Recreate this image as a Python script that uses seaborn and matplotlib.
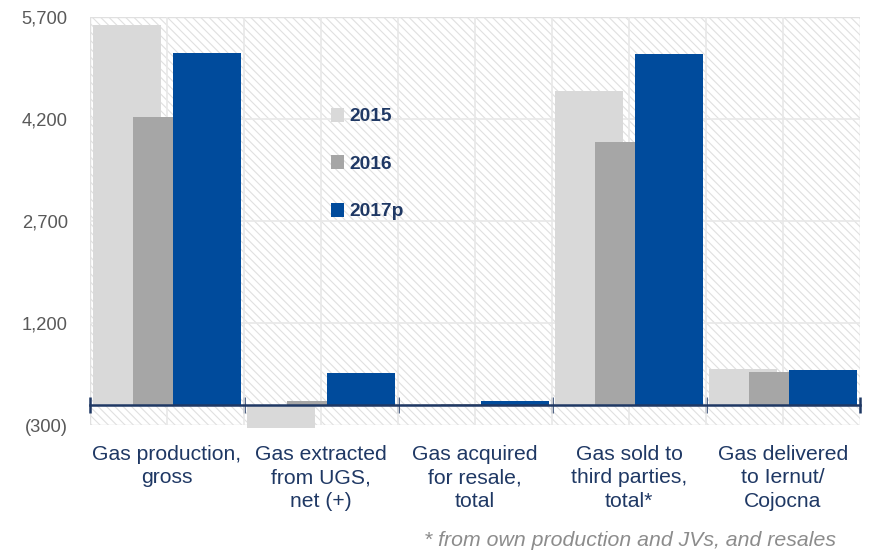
import pandas as pd
import matplotlib
matplotlib.use("Agg")
import matplotlib.pyplot as plt
import seaborn as sns
from matplotlib.patches import Rectangle, Patch
from matplotlib.ticker import FuncFormatter

# Values (thousand cubic metres, approx)
categories = ["Gas production,\ngross", "Gas extracted\nfrom UGS,\nnet (+)",
              "Gas acquired\nfor resale,\ntotal", "Gas sold to\nthird parties,\ntotal*",
              "Gas delivered\nto Iernut/\nCojocna"]
years = ["2015", "2016", "2017p"]
v2015 = [5580, -340, 3, 4610, 530]
v2016 = [4225, 50, 15, 3865, 475]
v2017 = [5165, 460, 50, 5150, 505]
colors = ["#D9D9D9", "#A6A6A6", "#004B9C"]
navy = "#1F3864"

df = pd.DataFrame({
    "category": categories * 3,
    "year": [y for y in years for _ in categories],
    "value": v2015 + v2016 + v2017,
})

sns.set_style("white")
plt.rcParams["font.family"] = ["Liberation Sans", "DejaVu Sans"]
plt.rcParams["hatch.linewidth"] = 0.8

fig = plt.figure(figsize=(8.7, 5.52), dpi=100)
ax = fig.add_axes([0.1034, 0.230, 0.8851, 0.7392])

# hatched plot area
ax.add_patch(Rectangle((0, 0), 1, 1, transform=ax.transAxes, facecolor="white",
                       edgecolor="#E0E0E0", hatch="\\\\\\\\", lw=1, zorder=0))

sns.barplot(data=df, x="category", y="value", hue="year", order=categories,
            hue_order=years, palette=colors, width=0.78, dodge=True,
            saturation=1, ax=ax, legend=False, zorder=3)

# overlapping wider bars
for p in ax.patches:
    if isinstance(p, Rectangle) and p.get_zorder() == 3:
        c = p.get_x() + p.get_width() / 2
        p.set_width(0.44)
        p.set_x(c - 0.22)
        p.set_edgecolor("none")
        p.set_clip_on(False)

ax.set_xlim(-0.5, 4.5)
ax.set_ylim(-300, 5700)
ax.set_yticks([-300, 1200, 2700, 4200, 5700])
ax.yaxis.set_major_formatter(FuncFormatter(
    lambda v, _: f"({abs(int(v)):,})" if v < 0 else f"{int(v):,}"))
ax.tick_params(axis="y", length=0, pad=16, labelsize=13.2, labelcolor="#595959")

# grid
for yv in [1200, 2700, 4200]:
    ax.axhline(yv, color="#E8E8E8", lw=1.2, zorder=1)
for xv in [i * 0.5 - 0.5 for i in range(1, 10)]:
    ax.axvline(xv, color="#E8E8E8", lw=1.2, zorder=1)

for s in ["top", "right", "left"]:
    ax.spines[s].set_visible(False)
ax.spines["bottom"].set_position(("data", 0))
ax.spines["bottom"].set_color(navy)
ax.spines["bottom"].set_linewidth(1.8)
ax.spines["bottom"].set_zorder(5)

ax.set_xticks(range(5))
ax.set_xticklabels(categories)
ax.set_xticks([-0.5, 0.5, 1.5, 2.5, 3.5, 4.5], minor=True)
ax.tick_params(axis="x", which="major", bottom=True, length=0, pad=29,
               labelsize=15.2, labelcolor=navy)
ax.tick_params(axis="x", which="minor", bottom=True, direction="inout",
               length=12, width=1.8, color=navy)
for lbl in ax.get_xticklabels():
    lbl.set_linespacing(1.3)
ax.set_xlabel("")
ax.set_ylabel("")

handles = [Patch(facecolor=c, edgecolor="none") for c in colors]
leg = ax.legend(handles, years, loc="upper left", bbox_to_anchor=(0.29, 0.82),
                frameon=False, handlelength=0.7, handleheight=0.75,
                handletextpad=0.3, labelspacing=1.55,
                prop={"weight": "bold", "size": 13.8})
for t in leg.get_texts():
    t.set_color(navy)

fig.text(0.961, 0.003, "* from own production and JVs, and resales",
         ha="right", va="bottom", style="italic", fontsize=15.3, color="#8C8C8C")

fig.savefig("out.png", dpi=100)
